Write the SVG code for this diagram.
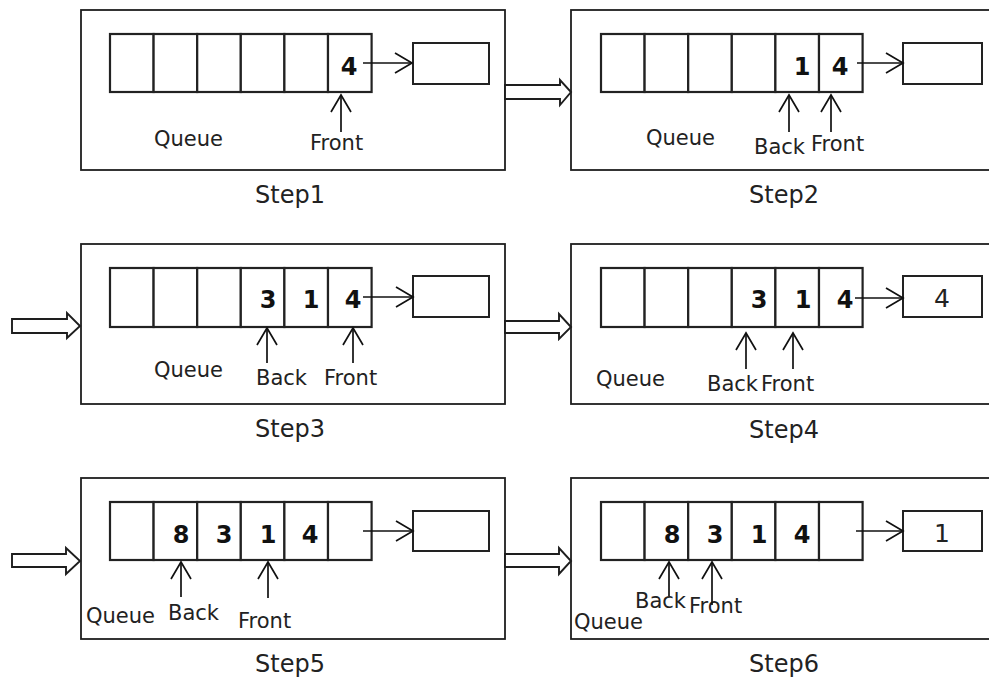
<svg xmlns="http://www.w3.org/2000/svg" width="989" height="681" viewBox="0 0 989 681">
<defs>
<style>
.panel{fill:#fff;stroke:#1e1e1e;stroke-width:1.8}
.cell{fill:#fff;stroke:#222;stroke-width:2.2}
.out{fill:#fff;stroke:#222;stroke-width:2}
.ln{stroke:#111;stroke-width:1.7;fill:none;marker-end:url(#open)}
.hollow{fill:#fff;stroke:#1e1e1e;stroke-width:1.9;stroke-linejoin:miter}
.lbl{font-family:"DejaVu Sans",sans-serif;font-size:21px;fill:#222}
.step{font-family:"DejaVu Sans",sans-serif;font-size:24px;fill:#222}
.num{font-family:"DejaVu Sans",sans-serif;font-weight:bold;font-size:24px;fill:#111;text-anchor:middle}
.onum{font-family:"DejaVu Sans",sans-serif;font-size:25px;fill:#222;text-anchor:middle}
</style>
<marker id="open" markerUnits="userSpaceOnUse" markerWidth="22" markerHeight="24" refX="19" refY="12" orient="auto" viewBox="0 0 22 24">
<path d="M2,2 L19,12 L2,22" fill="none" stroke="#111" stroke-width="1.7"/>
</marker>
</defs>
<rect width="989" height="681" fill="#fff"/>

<g id="step1">
<rect class="panel" x="81" y="10" width="424" height="160"/>
<rect class="cell" x="110" y="34" width="43.6" height="58"/>
<rect class="cell" x="153.6" y="34" width="43.6" height="58"/>
<rect class="cell" x="197.2" y="34" width="43.6" height="58"/>
<rect class="cell" x="240.8" y="34" width="43.6" height="58"/>
<rect class="cell" x="284.4" y="34" width="43.6" height="58"/>
<rect class="cell" x="328" y="34" width="43.6" height="58"/>
<text class="num" x="349" y="75">4</text>
<rect class="out" x="413" y="43" width="76" height="41"/>
<text class="lbl" x="154" y="146">Queue</text>
<text class="lbl" x="310" y="150">Front</text>
<text class="step" x="255" y="203">Step1</text>
</g>

<g id="step2">
<rect class="panel" x="571" y="10" width="430" height="160"/>
<rect class="cell" x="601" y="34" width="43.6" height="58"/>
<rect class="cell" x="644.6" y="34" width="43.6" height="58"/>
<rect class="cell" x="688.2" y="34" width="43.6" height="58"/>
<rect class="cell" x="731.8" y="34" width="43.6" height="58"/>
<rect class="cell" x="775.4" y="34" width="43.6" height="58"/>
<rect class="cell" x="819" y="34" width="43.6" height="58"/>
<text class="num" x="802" y="75">1</text>
<text class="num" x="840" y="75">4</text>
<rect class="out" x="903" y="43" width="79" height="41"/>
<text class="lbl" x="646" y="145">Queue</text>
<text class="lbl" x="754" y="154">Back</text>
<text class="lbl" x="811" y="151">Front</text>
<text class="step" x="749" y="203">Step2</text>
</g>

<g id="step3">
<rect class="panel" x="81" y="244" width="424" height="160"/>
<rect class="cell" x="110" y="268" width="43.6" height="59"/>
<rect class="cell" x="153.6" y="268" width="43.6" height="59"/>
<rect class="cell" x="197.2" y="268" width="43.6" height="59"/>
<rect class="cell" x="240.8" y="268" width="43.6" height="59"/>
<rect class="cell" x="284.4" y="268" width="43.6" height="59"/>
<rect class="cell" x="328" y="268" width="43.6" height="59"/>
<text class="num" x="268" y="308">3</text>
<text class="num" x="311" y="308">1</text>
<text class="num" x="353" y="308">4</text>
<rect class="out" x="413" y="276" width="76" height="41"/>
<text class="lbl" x="154" y="377">Queue</text>
<text class="lbl" x="256" y="385">Back</text>
<text class="lbl" x="324" y="385">Front</text>
<text class="step" x="255" y="437">Step3</text>
</g>

<g id="step4">
<rect class="panel" x="571" y="244" width="430" height="160"/>
<rect class="cell" x="601" y="268" width="43.6" height="59"/>
<rect class="cell" x="644.6" y="268" width="43.6" height="59"/>
<rect class="cell" x="688.2" y="268" width="43.6" height="59"/>
<rect class="cell" x="731.8" y="268" width="43.6" height="59"/>
<rect class="cell" x="775.4" y="268" width="43.6" height="59"/>
<rect class="cell" x="819" y="268" width="43.6" height="59"/>
<text class="num" x="759" y="308">3</text>
<text class="num" x="803" y="308">1</text>
<text class="num" x="845" y="308">4</text>
<rect class="out" x="903" y="276" width="79" height="41"/>
<text class="onum" x="942" y="307">4</text>
<text class="lbl" x="596" y="386">Queue</text>
<text class="lbl" x="707" y="391">Back</text>
<text class="lbl" x="761" y="391">Front</text>
<text class="step" x="749" y="438">Step4</text>
</g>

<g id="step5">
<rect class="panel" x="81" y="478" width="424" height="161"/>
<rect class="cell" x="110" y="502" width="43.6" height="58"/>
<rect class="cell" x="153.6" y="502" width="43.6" height="58"/>
<rect class="cell" x="197.2" y="502" width="43.6" height="58"/>
<rect class="cell" x="240.8" y="502" width="43.6" height="58"/>
<rect class="cell" x="284.4" y="502" width="43.6" height="58"/>
<rect class="cell" x="328" y="502" width="43.6" height="58"/>
<text class="num" x="181" y="543">8</text>
<text class="num" x="224" y="543">3</text>
<text class="num" x="268" y="543">1</text>
<text class="num" x="310" y="543">4</text>
<rect class="out" x="413" y="511" width="76" height="40"/>
<text class="lbl" x="86" y="623">Queue</text>
<text class="lbl" x="168" y="620">Back</text>
<text class="lbl" x="238" y="628">Front</text>
<text class="step" x="255" y="672">Step5</text>
</g>

<g id="step6">
<rect class="panel" x="571" y="478" width="430" height="161"/>
<rect class="cell" x="601" y="502" width="43.6" height="58"/>
<rect class="cell" x="644.6" y="502" width="43.6" height="58"/>
<rect class="cell" x="688.2" y="502" width="43.6" height="58"/>
<rect class="cell" x="731.8" y="502" width="43.6" height="58"/>
<rect class="cell" x="775.4" y="502" width="43.6" height="58"/>
<rect class="cell" x="819" y="502" width="43.6" height="58"/>
<text class="num" x="672" y="543">8</text>
<text class="num" x="715" y="543">3</text>
<text class="num" x="759" y="543">1</text>
<text class="num" x="802" y="543">4</text>
<rect class="out" x="903" y="511" width="79" height="40"/>
<text class="onum" x="942" y="542">1</text>
<text class="lbl" x="574" y="629">Queue</text>
<text class="lbl" x="635" y="608">Back</text>
<text class="lbl" x="689" y="613">Front</text>
<text class="step" x="749" y="672">Step6</text>
</g>

<g id="connectors">
<polygon class="hollow" points="505,85 560,85 560,80 571,92 560,105 560,99 505,99"/>
<polygon class="hollow" points="12,319 67,319 67,313 80,326 67,338 67,333 12,333"/>
<polygon class="hollow" points="505,321 559,321 559,314 571,327 559,339 559,333 505,333"/>
<polygon class="hollow" points="12,554 66,554 66,548 80,561 66,574 66,567 12,567"/>
<polygon class="hollow" points="505,554 559,554 559,548 571,561 559,574 559,567 505,567"/>

<line class="ln" x1="363" y1="63" x2="412" y2="63"/>
<line class="ln" x1="857" y1="63" x2="903" y2="63"/>
<line class="ln" x1="363" y1="297" x2="413" y2="297"/>
<line class="ln" x1="855" y1="298" x2="903" y2="298"/>
<line class="ln" x1="363" y1="531" x2="413" y2="531"/>
<line class="ln" x1="856" y1="531" x2="903" y2="531"/>

<line class="ln" x1="341" y1="132" x2="341" y2="95"/>
<line class="ln" x1="789" y1="132" x2="789" y2="95"/>
<line class="ln" x1="831" y1="132" x2="831" y2="95"/>
<line class="ln" x1="267" y1="363" x2="267" y2="328"/>
<line class="ln" x1="353" y1="363" x2="353" y2="328"/>
<line class="ln" x1="746" y1="369" x2="746" y2="333"/>
<line class="ln" x1="793" y1="369" x2="793" y2="333"/>
<line class="ln" x1="181" y1="597" x2="181" y2="562"/>
<line class="ln" x1="268" y1="598" x2="268" y2="562"/>
<line class="ln" x1="669" y1="596" x2="669" y2="562"/>
<line class="ln" x1="712" y1="605" x2="712" y2="562"/>
</g>
</svg>
